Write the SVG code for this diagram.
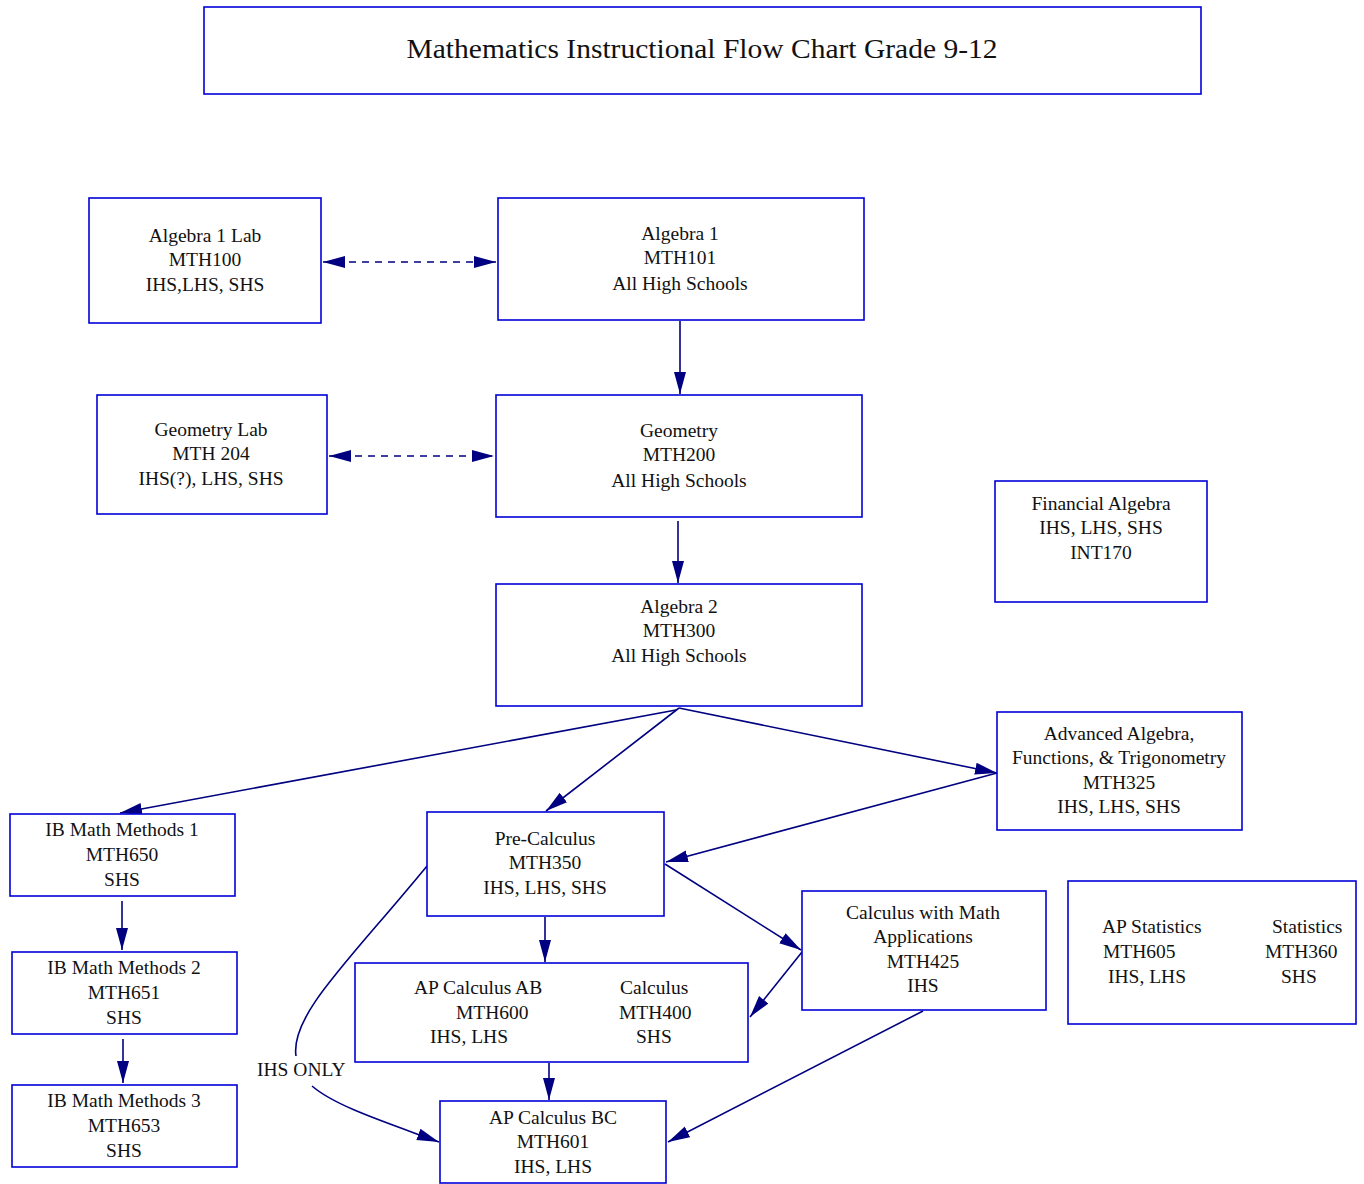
<svg xmlns="http://www.w3.org/2000/svg" width="1364" height="1184" viewBox="0 0 1364 1184">
<style>
.box{fill:#fff;stroke:#0000d8;stroke-width:1.6}
text{font-family:"Liberation Serif","Times New Roman",serif;font-size:19.5px;fill:#111}
.c{text-anchor:middle}
.e{fill:none;stroke:#000080;stroke-width:1.6}
.d{stroke-dasharray:7,6}
</style>
<defs>
<marker id="ah" markerUnits="userSpaceOnUse" markerWidth="24" markerHeight="14" refX="22" refY="6" orient="auto-start-reverse" viewBox="0 0 24 12">
<path d="M0,0 L22,6 L0,12 Z" fill="#000080"/>
</marker>
</defs>
<rect width="1364" height="1184" fill="#fff"/>
<g id="title">
<rect class="box" x="204" y="7" width="997" height="87"/>
<text x="702" y="58" class="c" style="font-size:28px" textLength="591" lengthAdjust="spacingAndGlyphs">Mathematics Instructional Flow Chart Grade 9-12</text>
</g>
<g id="connectors">
<line class="e d" x1="323" y1="262" x2="496" y2="262" marker-start="url(#ah)" marker-end="url(#ah)"/>
<line class="e d" x1="329" y1="456" x2="494" y2="456" marker-start="url(#ah)" marker-end="url(#ah)"/>
<line class="e" x1="680" y1="321" x2="680" y2="394" marker-end="url(#ah)"/>
<line class="e" x1="678" y1="521" x2="678" y2="583" marker-end="url(#ah)"/>
<line class="e" x1="676" y1="710" x2="120" y2="813" marker-end="url(#ah)"/>
<line class="e" x1="679" y1="708" x2="546" y2="811" marker-end="url(#ah)"/>
<line class="e" x1="679" y1="708" x2="997" y2="773" marker-end="url(#ah)"/>
<line class="e" x1="997" y1="773" x2="666" y2="862" marker-end="url(#ah)"/>
<line class="e" x1="665" y1="864" x2="801" y2="950" marker-end="url(#ah)"/>
<line class="e" x1="802" y1="952" x2="750" y2="1017" marker-end="url(#ah)"/>
<line class="e" x1="545" y1="917" x2="545" y2="962" marker-end="url(#ah)"/>
<line class="e" x1="549" y1="1063" x2="549" y2="1100" marker-end="url(#ah)"/>
<line class="e" x1="923" y1="1011" x2="668" y2="1142" marker-end="url(#ah)"/>
<line class="e" x1="122" y1="901" x2="122" y2="950" marker-end="url(#ah)"/>
<line class="e" x1="123" y1="1039" x2="123" y2="1083" marker-end="url(#ah)"/>
<path class="e" d="M427,866 C350,960 290,1015 296,1056"/>
<path class="e" d="M312,1086 C335,1106 385,1122 439,1142" marker-end="url(#ah)"/>
<text x="257" y="1076">IHS ONLY</text>
</g>
<g id="alg1lab">
<rect class="box" x="89" y="198" width="232" height="125"/>
<text class="c" x="205" y="242">Algebra 1 Lab</text>
<text class="c" x="205" y="266">MTH100</text>
<text class="c" x="205" y="291">IHS,LHS, SHS</text>
</g>
<g id="alg1">
<rect class="box" x="498" y="198" width="366" height="122"/>
<text class="c" x="680" y="240">Algebra 1</text>
<text class="c" x="680" y="264">MTH101</text>
<text class="c" x="680" y="290">All High Schools</text>
</g>
<g id="geolab">
<rect class="box" x="97" y="395" width="230" height="119"/>
<text class="c" x="211" y="436">Geometry Lab</text>
<text class="c" x="211" y="460">MTH 204</text>
<text class="c" x="211" y="485">IHS(?), LHS, SHS</text>
</g>
<g id="geo">
<rect class="box" x="496" y="395" width="366" height="122"/>
<text class="c" x="679" y="437">Geometry</text>
<text class="c" x="679" y="461">MTH200</text>
<text class="c" x="679" y="487">All High Schools</text>
</g>
<g id="finalg">
<rect class="box" x="995" y="481" width="212" height="121"/>
<text class="c" x="1101" y="510">Financial Algebra</text>
<text class="c" x="1101" y="534">IHS, LHS, SHS</text>
<text class="c" x="1101" y="559">INT170</text>
</g>
<g id="alg2">
<rect class="box" x="496" y="584" width="366" height="122"/>
<text class="c" x="679" y="613">Algebra 2</text>
<text class="c" x="679" y="637">MTH300</text>
<text class="c" x="679" y="662">All High Schools</text>
</g>
<g id="advalg">
<rect class="box" x="997" y="712" width="245" height="118"/>
<text class="c" x="1119" y="740">Advanced Algebra,</text>
<text class="c" x="1119" y="764">Functions, &amp; Trigonometry</text>
<text class="c" x="1119" y="789">MTH325</text>
<text class="c" x="1119" y="813">IHS, LHS, SHS</text>
</g>
<g id="ib1">
<rect class="box" x="10" y="814" width="225" height="82"/>
<text class="c" x="122" y="836">IB Math Methods 1</text>
<text class="c" x="122" y="861">MTH650</text>
<text class="c" x="122" y="886">SHS</text>
</g>
<g id="precalc">
<rect class="box" x="427" y="812" width="237" height="104"/>
<text class="c" x="545" y="845">Pre-Calculus</text>
<text class="c" x="545" y="869">MTH350</text>
<text class="c" x="545" y="894">IHS, LHS, SHS</text>
</g>
<g id="calcapps">
<rect class="box" x="802" y="891" width="244" height="119"/>
<text class="c" x="923" y="919">Calculus with Math</text>
<text class="c" x="923" y="943">Applications</text>
<text class="c" x="923" y="968">MTH425</text>
<text class="c" x="923" y="992">IHS</text>
</g>
<g id="stats">
<rect class="box" x="1068" y="881" width="288" height="143"/>
<text x="1102" y="933">AP Statistics</text>
<text x="1103" y="958">MTH605</text>
<text x="1108" y="983">IHS, LHS</text>
<text x="1272" y="933">Statistics</text>
<text x="1265" y="958">MTH360</text>
<text x="1281" y="983">SHS</text>
</g>
<g id="ib2">
<rect class="box" x="12" y="952" width="225" height="82"/>
<text class="c" x="124" y="974">IB Math Methods 2</text>
<text class="c" x="124" y="999">MTH651</text>
<text class="c" x="124" y="1024">SHS</text>
</g>
<g id="calcab">
<rect class="box" x="355" y="963" width="393" height="99"/>
<text x="414" y="994">AP Calculus AB</text>
<text x="456" y="1019">MTH600</text>
<text x="430" y="1043">IHS, LHS</text>
<text x="620" y="994">Calculus</text>
<text x="619" y="1019">MTH400</text>
<text x="636" y="1043">SHS</text>
</g>
<g id="ib3">
<rect class="box" x="12" y="1085" width="225" height="82"/>
<text class="c" x="124" y="1107">IB Math Methods 3</text>
<text class="c" x="124" y="1132">MTH653</text>
<text class="c" x="124" y="1157">SHS</text>
</g>
<g id="calcbc">
<rect class="box" x="440" y="1101" width="226" height="82"/>
<text class="c" x="553" y="1124">AP Calculus BC</text>
<text class="c" x="553" y="1148">MTH601</text>
<text class="c" x="553" y="1173">IHS, LHS</text>
</g>
</svg>
